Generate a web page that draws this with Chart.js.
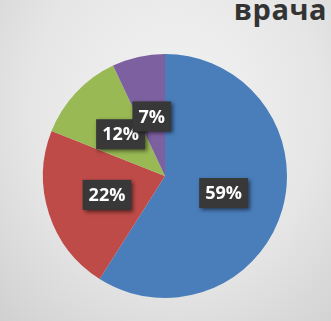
<!DOCTYPE html>
<html>
<head>
<meta charset="utf-8">
<script src="https://cdn.jsdelivr.net/npm/chart.js@4"></script>
<style>
    html, body { margin: 0; padding: 0; }
    body {
        width: 331px; height: 321px; overflow: hidden; position: relative;
        background: radial-gradient(ellipse 260px 300px at 175px 110px, #f3f3f3 0%, #e6e6e6 55%, #cfcfcf 100%);
    }
    #title {
        position: absolute; right: 4px; top: -11px;
        font-family: "Open Sans", sans-serif; font-weight: bold; font-size: 29px;
        color: #333333; letter-spacing: 0.5px;
    }
    #wrap { position: absolute; left: 0; top: 0; width: 331px; height: 321px; }
</style>
</head>
<body>
<div id="title">врача</div>
<div id="wrap"><canvas id="pieChart"></canvas></div>
<script>
const categories = ["A", "B", "C", "D"];
const shares = [59, 22, 12, 7];
const shareLabels = ["59%", "22%", "12%", "7%"];
const sliceColors = ["#4a7ebb", "#be4b48", "#98b954", "#7d60a0"];

const boxLabels = {
    id: "boxLabels",
    afterDatasetsDraw(chart) {
        const ctx = chart.ctx;
        const arcs = chart.getDatasetMeta(0).data;
        ctx.save();
        ctx.font = "bold 18px 'Open Sans', sans-serif";
        ctx.textAlign = "center";
        ctx.textBaseline = "middle";
        arcs.forEach(function (arc, i) {
            const mid = (arc.startAngle + arc.endAngle) / 2;
            const r = arc.outerRadius * 0.5;
            const x = arc.x + Math.cos(mid) * r;
            const y = arc.y + Math.sin(mid) * r;
            const w = ctx.measureText(shareLabels[i]).width + 12;
            const h = 30;
            ctx.shadowColor = "rgba(0,0,0,0.55)";
            ctx.shadowBlur = 4;
            ctx.shadowOffsetX = 2;
            ctx.shadowOffsetY = 2;
            ctx.fillStyle = "#383838";
            ctx.fillRect(x - w / 2, y - h / 2, w, h);
            ctx.shadowColor = "transparent";
            ctx.fillStyle = "#ffffff";
            ctx.fillText(shareLabels[i], x, y + 1);
        });
        ctx.restore();
    }
};

new Chart("pieChart", {
    type: "pie",
    data: {
        labels: categories,
        datasets: [{
            data: shares,
            backgroundColor: sliceColors,
            borderWidth: 0
        }]
    },
    options: {
        responsive: true,
        maintainAspectRatio: false,
        animation: false,
        layout: { padding: { top: 54, bottom: 23, left: 43, right: 44 } },
        plugins: {
            legend: { display: false },
            tooltip: { enabled: false }
        }
    },
    plugins: [boxLabels]
});
</script>
</body>
</html>
